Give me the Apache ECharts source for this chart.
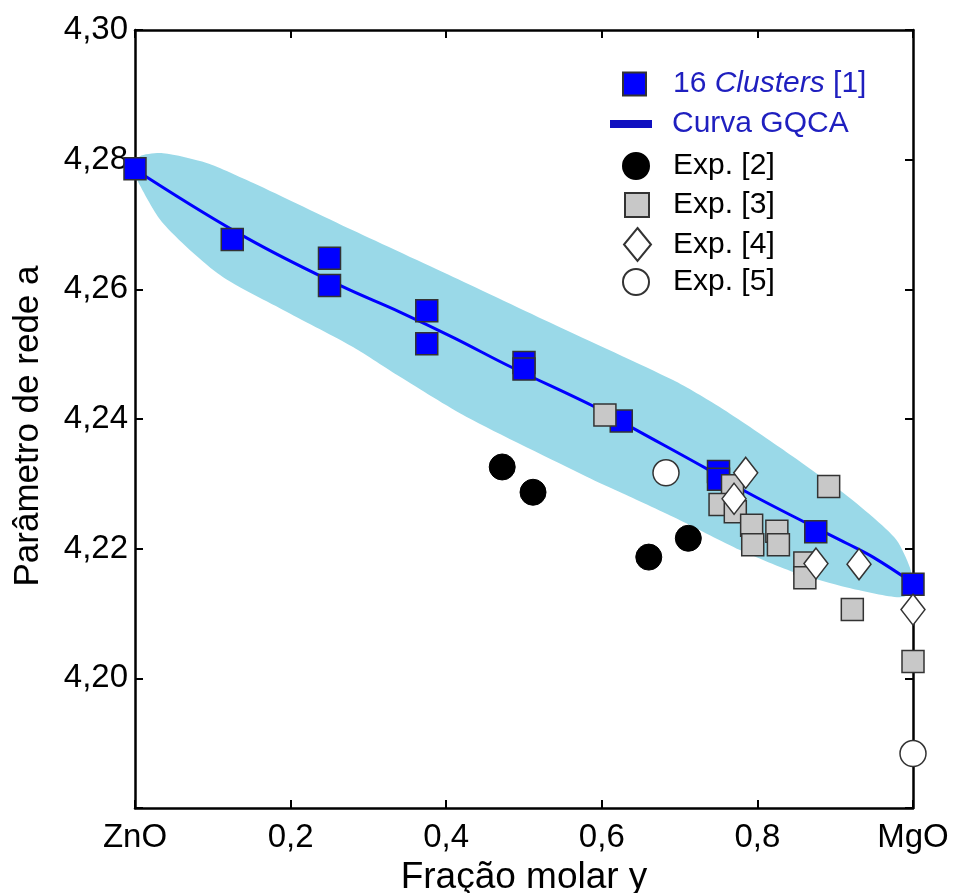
<!DOCTYPE html>
<html><head><meta charset="utf-8">
<script src="https://cdn.jsdelivr.net/npm/echarts@6/dist/echarts.min.js"></script>
<style>html,body{margin:0;padding:0;background:#fff}#c{width:955px;height:893px}</style>
</head><body><div id="c"></div>
<script>
// ---- data ----
const clusterX = [0, 0.125, 0.25, 0.25, 0.375, 0.375, 0.5, 0.5, 0.625, 0.75, 0.75, 0.875, 1.0];
const clusterY = [4.2786, 4.2677, 4.2648, 4.2606, 4.2567, 4.2516, 4.2487, 4.2477, 4.2397, 4.2319, 4.2307, 4.2226, 4.2145];

const curveX = [0, 0.0154, 0.144, 0.2635, 0.3406, 0.4087, 0.482, 0.5938, 0.640, 0.7352, 0.7866, 0.8638, 0.9152, 0.9486, 1.0];
const curveY = [4.2790, 4.2773, 4.2679, 4.2606, 4.2565, 4.2526, 4.2481, 4.2417, 4.2386, 4.2323, 4.2287, 4.2239, 4.2208, 4.2187, 4.2147];

const bandUpperX = [0.0, 0.006, 0.036, 0.092, 0.152, 0.28, 0.409, 0.54, 0.6915, 0.752, 0.829, 0.906, 0.949, 0.979, 0.996, 1.0];
const bandUpperY = [4.2785, 4.2805, 4.2810, 4.2795, 4.2764, 4.2691, 4.2619, 4.2545, 4.2460, 4.2418, 4.2356, 4.2290, 4.2248, 4.2213, 4.2171, 4.2140];
const bandLowerX = [0.0, 0.0026, 0.036, 0.1093, 0.1954, 0.2802, 0.3406, 0.4263, 0.5806, 0.6272, 0.7005, 0.7776, 0.8509, 0.9152, 0.9794, 1.0];
const bandLowerY = [4.2785, 4.2769, 4.2702, 4.2622, 4.2565, 4.2511, 4.2465, 4.2403, 4.2311, 4.2285, 4.2244, 4.2198, 4.2162, 4.2140, 4.2125, 4.2131];

const exp2X = [0.472, 0.5116, 0.6604, 0.7112];
const exp2Y = [4.2326, 4.2287, 4.2187, 4.2216];

const exp3X = [0.604, 0.768, 0.752, 0.7716, 0.7926, 0.794, 0.825, 0.827, 0.861, 0.861, 0.8916, 0.922, 1.0];
const exp3Y = [4.2406, 4.2297, 4.2268, 4.2257, 4.2236, 4.2206, 4.2227, 4.2206, 4.2178, 4.2155, 4.2296, 4.2106, 4.2026];

const exp4X = [0.785, 0.770, 0.8753, 0.9306, 1.0];
const exp4Y = [4.2317, 4.2277, 4.2177, 4.2176, 4.2106];

const exp5X = [0.6825, 1.0];
const exp5Y = [4.2317, 4.1884];

const xMin = 0, xMax = 1, xStep = 0.2;
const yMin = 4.18, yMax = 4.30, yStep = 0.02;
const xEndLabels = {0: 'ZnO', 1: 'MgO'};

const names = ['16 Clusters [1]', 'Curva GQCA', 'Exp. [2]', 'Exp. [3]', 'Exp. [4]', 'Exp. [5]'];

// ---- helpers ----
const zip = (a, b) => a.map((v, i) => [v, b[i]]);
const FONT = 'Liberation Sans, Arial, sans-serif';
const BORDER = '#333';
const LFS = 30;

const chart = echarts.init(document.getElementById('c'), null, {renderer: 'canvas'});

function legendItem(name, left, top, icon, w, h, pad, color, extra) {
  return Object.assign({
    show: true,
    selectedMode: false,
    orient: 'vertical',
    left: left, top: top,
    padding: 0,
    itemWidth: w, itemHeight: h,
    data: [{name: name, icon: icon}],
    textStyle: {fontFamily: FONT, fontSize: LFS, lineHeight: 30, color: color, padding: [0, 0, 0, pad]}
  }, extra || {});
}

const axisCommon = {
  axisLine: {show: true, onZero: false, lineStyle: {color: '#000', width: 2.5}},
  axisTick: {show: true, inside: true, length: 8, lineStyle: {color: '#000', width: 2}},
  splitLine: {show: false}
};

const option = {
  animation: false,
  backgroundColor: '#fff',
  grid: {left: 135, right: 42, top: 30, bottom: 85, containLabel: false, outerBoundsMode: 'none'},
  legend: [
    legendItem(names[0], 622, 69, 'rect', 23, 23, 22, '#1f1fbf', {
      formatter: () => '16 {i|Clusters} [1]',
      textStyle: {fontFamily: FONT, fontSize: LFS, lineHeight: 30, color: '#1f1fbf', padding: [0, 0, 0, 22],
        rich: {i: {fontFamily: FONT, fontSize: LFS, fontStyle: 'italic', color: '#1f1fbf'}}}
    }),
    legendItem(names[1], 610, 109, 'rect', 42, 8, 15, '#1f1fbf', {
      data: [{name: names[1], icon: 'rect', itemStyle: {color: '#1010c0', borderWidth: 0}}]
    }),
    legendItem(names[2], 622, 151, 'circle', 26, 26, 19, '#000'),
    legendItem(names[3], 624, 190, 'rect', 24, 24, 19, '#000'),
    legendItem(names[4], 623, 227, 'diamond', 27, 33, 17, '#000'),
    legendItem(names[5], 622, 267, 'circle', 26, 26, 19, '#000')
  ],
  xAxis: [
    Object.assign({}, axisCommon, {
      type: 'value', position: 'bottom', min: xMin, max: xMax, interval: xStep,
      name: 'Fração molar y', nameLocation: 'middle', nameGap: 49,
      nameTextStyle: {fontFamily: FONT, fontSize: 37, color: '#000'},
      axisLabel: {fontFamily: FONT, fontSize: 33, color: '#000', margin: 13,
        formatter: v => {
          const r = Math.round(v * 10) / 10;
          if (xEndLabels[r] !== undefined) return xEndLabels[r];
          return r.toFixed(1).replace('.', ',');
        }}
    }),
    Object.assign({}, axisCommon, {
      type: 'value', position: 'top', min: xMin, max: xMax, interval: xStep,
      axisLabel: {show: false}
    })
  ],
  yAxis: [
    Object.assign({}, axisCommon, {
      type: 'value', position: 'left', min: yMin, max: yMax, interval: yStep,
      name: 'Parâmetro de rede a', nameLocation: 'middle', nameGap: 89, nameRotate: 90,
      nameTextStyle: {fontFamily: FONT, fontSize: 35, color: '#000', padding: [0, 14, 0, 0]},
      axisLabel: {fontFamily: FONT, fontSize: 33, color: '#000', margin: 7,
        formatter: v => v < yMin + yStep / 2 ? '' : v.toFixed(2).replace('.', ',')}
    }),
    Object.assign({}, axisCommon, {
      type: 'value', position: 'right', min: yMin, max: yMax, interval: yStep,
      axisLabel: {show: false}
    })
  ],
  series: [
    {
      type: 'custom', name: 'band', silent: true, z: 1,
      data: [[0.5, 4.25]],
      renderItem: function (params, api) {
        const pts = [];
        for (let i = 0; i < bandUpperX.length; i++) pts.push(api.coord([bandUpperX[i], bandUpperY[i]]));
        for (let i = bandLowerX.length - 1; i >= 0; i--) pts.push(api.coord([bandLowerX[i], bandLowerY[i]]));
        return {type: 'polygon', shape: {points: pts, smooth: 0.25}, style: {fill: '#9ad9e8'}};
      }
    },
    {
      type: 'line', name: names[1], z: 2,
      data: zip(curveX, curveY), smooth: 0.4, showSymbol: false, symbol: 'none',
      lineStyle: {color: '#0000ff', width: 3}, itemStyle: {color: '#1010c0'}
    },
    {
      type: 'scatter', name: names[0], z: 3,
      data: zip(clusterX, clusterY), symbol: 'rect', symbolSize: 22,
      itemStyle: {color: '#0000ff', borderColor: BORDER, borderWidth: 1.5, opacity: 1}
    },
    {
      type: 'scatter', name: names[3], z: 4,
      data: zip(exp3X, exp3Y), symbol: 'rect', symbolSize: 22,
      itemStyle: {color: '#c8c8c8', borderColor: BORDER, borderWidth: 1.5, opacity: 1}
    },
    {
      type: 'scatter', name: names[4], z: 5,
      data: zip(exp4X, exp4Y), symbol: 'diamond', symbolSize: [24, 31],
      itemStyle: {color: '#fff', borderColor: BORDER, borderWidth: 1.5, opacity: 1}
    },
    {
      type: 'scatter', name: names[2], z: 5,
      data: zip(exp2X, exp2Y), symbol: 'circle', symbolSize: 26,
      itemStyle: {color: '#000', borderColor: '#000', borderWidth: 1, opacity: 1}
    },
    {
      type: 'scatter', name: names[5], z: 5,
      data: zip(exp5X, exp5Y), symbol: 'circle', symbolSize: 26,
      itemStyle: {color: '#fff', borderColor: BORDER, borderWidth: 1.5, opacity: 1}
    }
  ]
};
chart.setOption(option);
</script>
</body></html>
